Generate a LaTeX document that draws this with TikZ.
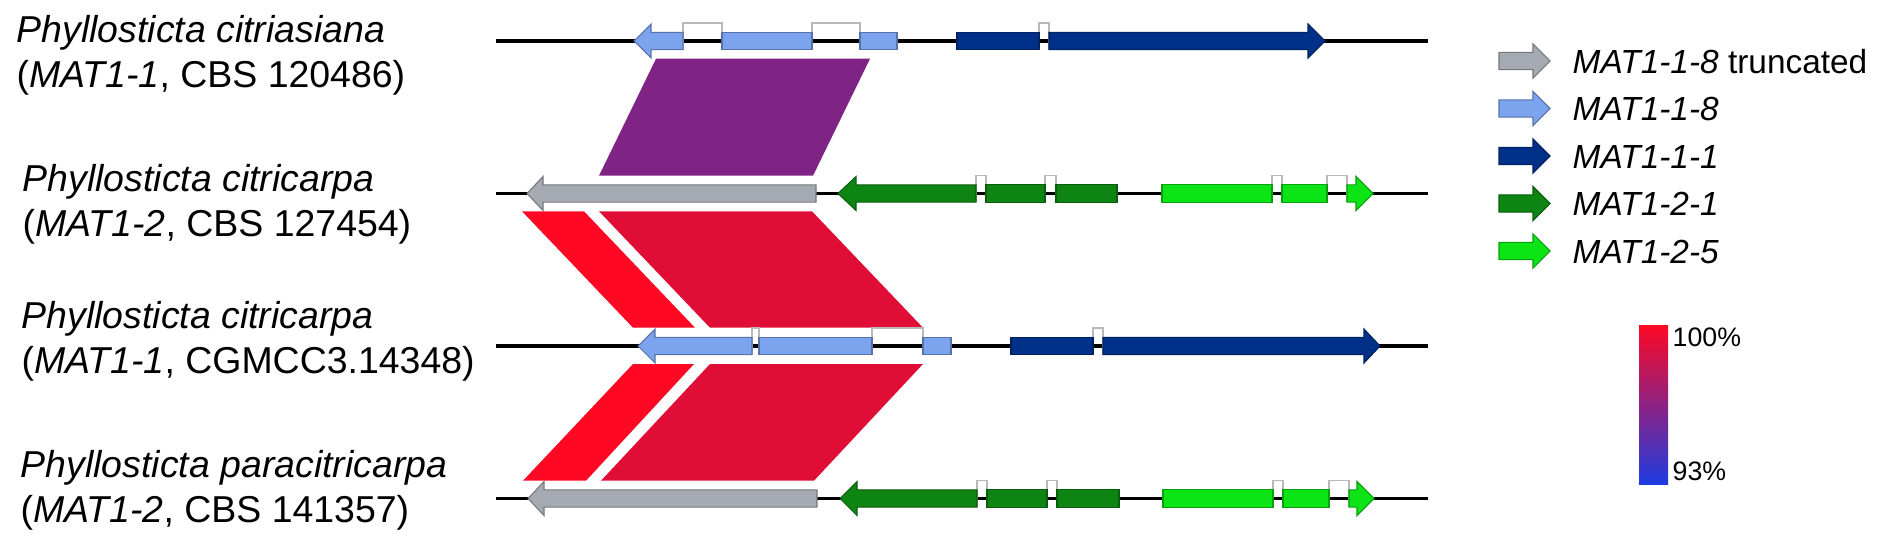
\documentclass[tikz,border=0pt]{standalone}
\usepackage{fontspec}
\setmainfont{Liberation Sans}
\usepackage{tikz}
\definecolor{gtrunc}{RGB}{166,170,178}
\definecolor{gmat118}{RGB}{124,163,238}
\definecolor{gmat111}{RGB}{0,48,135}
\definecolor{gmat121}{RGB}{14,133,18}
\definecolor{gmat125}{RGB}{12,228,22}
\definecolor{idpurple}{RGB}{127,36,133}
\definecolor{idred}{RGB}{254,8,36}
\definecolor{idcrimson}{RGB}{224,13,54}
\definecolor{barmid}{RGB}{150,28,112}
\definecolor{barblue}{RGB}{30,60,225}
\tikzset{
  track/.style={line width=1.1pt, black},
  intr/.style={draw=gray!55, line width=0.4pt},
  gene/.style={fill=#1, draw=#1!70!black, line width=0.3pt},
  spname/.style={font=\fontsize{10.65}{12.8}\selectfont, align=left,
                 anchor=west, inner sep=0pt},
  legtxt/.style={font=\fontsize{9.5}{11}\selectfont, anchor=base west, inner sep=0pt},
  bartxt/.style={font=\fontsize{7.6}{9}\selectfont, anchor=base west, inner sep=0pt},
}
% gene pieces: {colour}{track y}{x ...}
\newcommand{\fwdgene}[5]{\filldraw[gene=#1] (#3,#2-8.7) -- (#4,#2-8.7) -- (#4,#2-17)
  -- (#5,#2) -- (#4,#2+17) -- (#4,#2+8.7) -- (#3,#2+8.7) -- cycle;}
\newcommand{\revgene}[5]{\filldraw[gene=#1] (#3,#2) -- (#4,#2-17) -- (#4,#2-8.7)
  -- (#5,#2-8.7) -- (#5,#2+8.7) -- (#4,#2+8.7) -- (#4,#2+17) -- cycle;}
\newcommand{\exon}[4]{\filldraw[gene=#1] (#3,#2-8.7) rectangle (#4,#2+8.7);}
\newcommand{\intron}[3]{\draw[intr] (#2,#1+8.7) -- (#2,#1-18) -- (#3,#1-18) -- (#3,#1+8.7);}

\begin{document}
\begin{tikzpicture}[x=0.01cm, y=-0.01cm]
  \useasboundingbox (0,0) rectangle (1894,539);

  % ─── Strain labels ────────────────────────────────────────────────
  \node[spname] (sp1) at (16,55)  {\textit{Phyllosticta citriasiana}\\(\textit{MAT1-1}, CBS 120486)};
  \node[spname] (sp2) at (22,204) {\textit{Phyllosticta citricarpa}\\(\textit{MAT1-2}, CBS 127454)};
  \node[spname] (sp3) at (21,341) {\textit{Phyllosticta citricarpa}\\(\textit{MAT1-1}, CGMCC3.14348)};
  \node[spname] (sp4) at (20,490) {\textit{Phyllosticta paracitricarpa}\\(\textit{MAT1-2}, CBS 141357)};

  % ─── Identity blocks between tracks ───────────────────────────────
  \fill[idpurple]  (656,58.7) -- (870,58.7) -- (813,175.7) -- (599,175.7) -- cycle;
  \fill[idred]     (522,211.3) -- (584,211.3) -- (695,327.7) -- (633,327.7) -- cycle;
  \fill[idcrimson] (599,211.3) -- (812,211.3) -- (923,327.7) -- (710,327.7) -- cycle;
  \fill[idred]     (633,364) -- (694,364) -- (586,480.7) -- (523,480.7) -- cycle;
  \fill[idcrimson] (710,364) -- (923,364) -- (814,480.7) -- (601,480.7) -- cycle;

  % ─── Track 1: P. citriasiana MAT1-1 ───────────────────────────────
  \draw[track] (496,41) -- (1428,41);
  \intron{41}{683}{722}
  \intron{41}{812}{860}
  \intron{41}{1039}{1049}
  \revgene{gmat118}{41}{634}{651}{683}
  \exon{gmat118}{41}{722}{812}
  \exon{gmat118}{41}{860}{897}
  \exon{gmat111}{41}{957}{1039}
  \fwdgene{gmat111}{41}{1049}{1308}{1325}

  % ─── Track 2: P. citricarpa MAT1-2 ────────────────────────────────
  \draw[track] (496,193.5) -- (1428,193.5);
  \intron{193.5}{976}{986}
  \intron{193.5}{1045}{1056}
  \intron{193.5}{1272}{1282}
  \intron{193.5}{1327}{1347}
  \revgene{gtrunc}{193.5}{527}{543}{816}
  \revgene{gmat121}{193.5}{838}{856}{976}
  \exon{gmat121}{193.5}{986}{1045}
  \exon{gmat121}{193.5}{1056}{1117}
  \exon{gmat125}{193.5}{1162}{1272}
  \exon{gmat125}{193.5}{1282}{1327}
  \fwdgene{gmat125}{193.5}{1347}{1356}{1373}

  % ─── Track 3: P. citricarpa MAT1-1 ────────────────────────────────
  \draw[track] (496,346) -- (1428,346);
  \intron{346}{752}{759}
  \intron{346}{872}{923}
  \intron{346}{1093}{1103}
  \revgene{gmat118}{346}{638}{655}{752}
  \exon{gmat118}{346}{759}{872}
  \exon{gmat118}{346}{923}{951}
  \exon{gmat111}{346}{1011}{1093}
  \fwdgene{gmat111}{346}{1103}{1364}{1380}

  % ─── Track 4: P. paracitricarpa MAT1-2 ────────────────────────────
  \draw[track] (496,498.5) -- (1428,498.5);
  \intron{498.5}{977}{987}
  \intron{498.5}{1047}{1057}
  \intron{498.5}{1273}{1283}
  \intron{498.5}{1329}{1349}
  \revgene{gtrunc}{498.5}{528}{544}{817}
  \revgene{gmat121}{498.5}{840}{857}{977}
  \exon{gmat121}{498.5}{987}{1047}
  \exon{gmat121}{498.5}{1057}{1119}
  \exon{gmat125}{498.5}{1163}{1273}
  \exon{gmat125}{498.5}{1283}{1329}
  \fwdgene{gmat125}{498.5}{1349}{1357}{1374}

  % ─── Legend ───────────────────────────────────────────────────────
  \fwdgene{gtrunc}{61}{1499}{1533}{1550}
  \node[legtxt] (leg1) at (1572,73) {\textit{MAT1-1-8} truncated};
  \fwdgene{gmat118}{108.5}{1499}{1533}{1550}
  \node[legtxt] (leg2) at (1572,120.5) {\textit{MAT1-1-8}};
  \fwdgene{gmat111}{156}{1499}{1533}{1550}
  \node[legtxt] (leg3) at (1572,168) {\textit{MAT1-1-1}};
  \fwdgene{gmat121}{203.5}{1499}{1533}{1550}
  \node[legtxt] (leg4) at (1572,215.5) {\textit{MAT1-2-1}};
  \fwdgene{gmat125}{251}{1499}{1533}{1550}
  \node[legtxt] (leg5) at (1572,263) {\textit{MAT1-2-5}};

  % ─── Identity colour bar ──────────────────────────────────────────
  \shade[top color=idred, middle color=barmid, bottom color=barblue]
    (1639,325) rectangle (1668,484);
  \node[bartxt] (bar100) at (1672,346) {100\%};
  \node[bartxt] (bar93)  at (1672,480) {93\%};

\end{tikzpicture}
\end{document}
